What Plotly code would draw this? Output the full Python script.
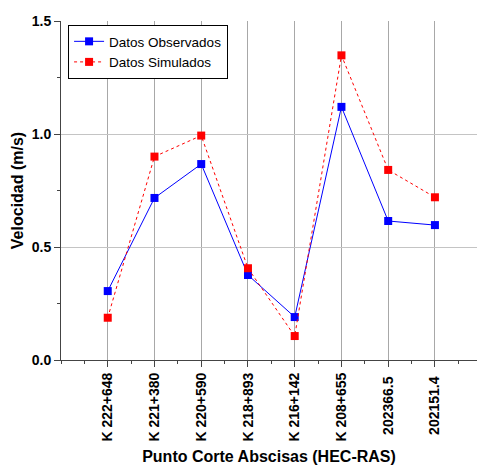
import plotly.graph_objects as go

categories = ["K 222+648", "K 221+380", "K 220+590", "K 218+893",
              "K 216+142", "K 208+655", "202366.5\u00a0", "202151.4\u00a0"]
observados = [0.305, 0.717, 0.867, 0.376, 0.19, 1.12, 0.615, 0.597]
simulados = [0.187, 0.90, 0.993, 0.406, 0.106, 1.348, 0.841, 0.72]

xpos = list(range(len(categories)))

fig = go.Figure()
fig.add_trace(go.Scatter(
    x=xpos, y=observados, name="Datos Observados", mode="lines+markers",
    line=dict(color="#0000ff", width=1),
    marker=dict(symbol="square", size=8, color="#0000ff")))
fig.add_trace(go.Scatter(
    x=xpos, y=simulados, name="Datos Simulados", mode="lines+markers",
    line=dict(color="#ff0000", width=1, dash="dot"),
    marker=dict(symbol="square", size=8, color="#ff0000")))

FAM = "Arial, Liberation Sans"
tickfont = dict(family=FAM, size=14, color="black", weight="bold")

fig.update_layout(
    template="none",
    width=477, height=465,
    margin=dict(l=61, r=0, t=21, b=105, autoexpand=False),
    plot_bgcolor="white", paper_bgcolor="white",
    font=dict(family=FAM, color="black"),
    showlegend=True,
    legend=dict(x=0.017, y=0.988, xanchor="left", yanchor="top",
                bgcolor="white", bordercolor="black", borderwidth=1,
                font=dict(size=13.5, family=FAM),
                itemwidth=30, tracegroupgap=0),
    xaxis=dict(
        tickmode="array", tickvals=xpos, ticktext=categories,
        range=[-1, 7.9], tickangle=-90, tickfont=tickfont, automargin=False,
        showgrid=True, gridcolor="#a8a8a8", gridwidth=1,
        showline=True, linecolor="#444444", linewidth=1, mirror=False,
        ticks="outside", ticklen=6, tickcolor="#444444",
        minor=dict(dtick=0.5, tick0=0, ticks="outside", ticklen=3,
                   tickcolor="#444444", showgrid=False),
        zeroline=False,
        title=dict(text="Punto Corte Abscisas (HEC-RAS)", standoff=12,
                   font=dict(size=16, family=FAM, weight="bold")),
    ),
    yaxis=dict(
        range=[0, 1.5], tickmode="array", tickvals=[0, 0.5, 1.0, 1.5],
        ticktext=["0.0", "0.5", "1.0", "1.5"], tickfont=tickfont, automargin=False,
        showgrid=True, gridcolor="#c4c4c4", gridwidth=1,
        showline=True, linecolor="#444444", linewidth=1, mirror=False,
        ticks="outside", ticklen=6, tickcolor="#444444",
        minor=dict(dtick=0.25, tick0=0, ticks="outside", ticklen=3,
                   tickcolor="#444444", showgrid=False),
        zeroline=False,
        title=dict(text="Velocidad (m/s)", standoff=4,
                   font=dict(size=16, family=FAM, weight="bold")),
    ),
)

fig.write_html(
    "out.html",
    config={"displayModeBar": False},
    post_script="document.body.style.margin='0';document.body.style.overflow='hidden';",
)
